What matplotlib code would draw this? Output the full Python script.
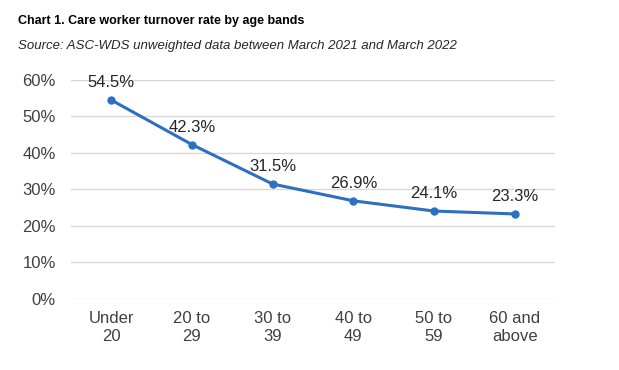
import matplotlib
matplotlib.use("Agg")
import matplotlib.pyplot as plt

categories = ["Under\n20", "20 to\n29", "30 to\n39", "40 to\n49", "50 to\n59", "60 and\nabove"]
turnover = [54.5, 42.3, 31.5, 26.9, 24.1, 23.3]
yticks = [0, 10, 20, 30, 40, 50, 60]

plt.rcParams["font.family"] = ["Liberation Sans", "DejaVu Sans"]

fig = plt.figure(figsize=(6.19, 3.70), dpi=100)
ax = fig.add_axes([0.1147, 0.1919, 0.7819, 0.5919])

x = range(len(categories))
ax.plot(x, turnover, color="#2E70C0", lw=2.2, marker="o", ms=5)
for xi, v in zip(x, turnover):
    ax.annotate(f"{v}%", (xi, v), xytext=(0, 7), textcoords="offset points",
                ha="center", va="bottom", fontsize=12, color="#262626")

ax.set_xlim(-0.5, len(categories) - 0.5)
ax.set_ylim(0, 60)
ax.set_yticks(yticks)
ax.set_yticklabels([f"{t}%" for t in yticks])
ax.set_xticks(list(x))
ax.set_xticklabels(categories, linespacing=1.25)
ax.tick_params(length=0, labelsize=12, labelcolor="#404040")
ax.tick_params(axis="y", pad=11)
ax.tick_params(axis="x", pad=9)
ax.grid(axis="y", color="#d9d9d9", lw=1)
ax.set_axisbelow(True)
for s in ax.spines.values():
    s.set_visible(False)

fig.text(0.029, 0.942, "Chart 1. Care worker turnover rate by age bands",
         fontsize=9.0, fontweight="bold", color="#000000", va="center")
fig.text(0.029, 0.877, "Source: ASC-WDS unweighted data between March 2021 and March 2022",
         fontsize=9.5, style="italic", color="#262626", va="center")

fig.savefig("out.png", dpi=100)
